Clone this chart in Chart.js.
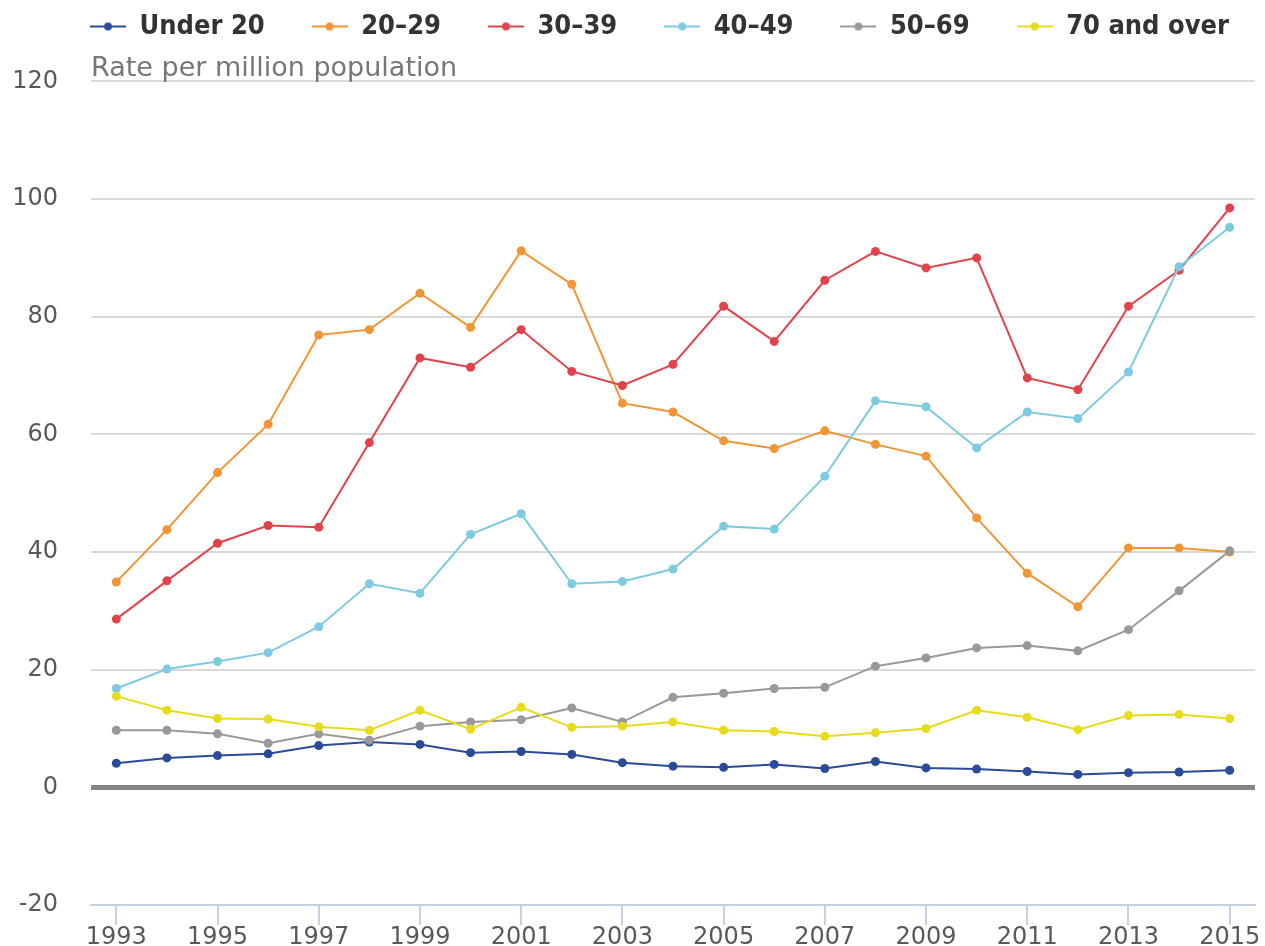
<!DOCTYPE html>
<html>
<head>
<meta charset="utf-8">
<script src="https://cdn.jsdelivr.net/npm/chart.js@4/dist/chart.umd.min.js"></script>
<style>
  body { margin: 0; background: #fff; }
  #wrap { width: 1265px; height: 946px; }
</style>
</head>
<body>
<div id="wrap"><canvas id="rateChart"></canvas></div>
<script>
// years on the x axis
const years = ['1993', '1994', '1995', '1996', '1997', '1998', '1999', '2000', '2001', '2002', '2003',
  '2004', '2005', '2006', '2007', '2008', '2009', '2010', '2011', '2012', '2013', '2014', '2015'];

// rate per million population, by age group
const under20 = [4.1, 5.0, 5.4, 5.7, 7.1, 7.7, 7.3, 5.9, 6.1, 5.6, 4.2, 3.6, 3.4, 3.9, 3.2, 4.4, 3.3, 3.1, 2.7, 2.2, 2.5, 2.6, 2.9];
const age20to29 = [34.9, 43.8, 53.5, 61.7, 76.9, 77.8, 84.0, 78.2, 91.2, 85.5, 65.3, 63.8, 58.9, 57.6, 60.6, 58.3, 56.3, 45.8, 36.4, 30.7, 40.7, 40.7, 40.0];
const age30to39 = [28.6, 35.1, 41.5, 44.5, 44.2, 58.6, 73.0, 71.4, 77.8, 70.7, 68.3, 71.9, 81.8, 75.8, 86.2, 91.1, 88.3, 90.0, 69.6, 67.6, 81.8, 87.9, 98.5];
const age40to49 = [16.8, 20.1, 21.4, 22.9, 27.3, 34.6, 33.0, 43.0, 46.5, 34.6, 35.0, 37.1, 44.4, 43.9, 52.9, 65.7, 64.7, 57.7, 63.8, 62.7, 70.6, 88.5, 95.2];
const age50to69 = [9.7, 9.7, 9.1, 7.5, 9.1, 8.0, 10.4, 11.1, 11.5, 13.5, 11.1, 15.3, 16.0, 16.8, 17.0, 20.6, 22.0, 23.7, 24.1, 23.2, 26.8, 33.4, 40.2];
const age70plus = [15.5, 13.1, 11.7, 11.6, 10.3, 9.7, 13.1, 9.9, 13.6, 10.2, 10.4, 11.1, 9.7, 9.5, 8.7, 9.3, 10.0, 13.1, 11.9, 9.8, 12.2, 12.4, 11.7];

const seriesNames = ['Under 20', '20\u201329', '30\u201339', '40\u201349', '50\u201369', '70 and over'];
const yTicks = [-20, 0, 20, 40, 60, 80, 100, 120];

const colors = ['#2a4a9a', '#f29534', '#e2434a', '#7ecbe1', '#999999', '#e6dc1c'];
const allSeries = [under20, age20to29, age30to39, age40to49, age50to69, age70plus];

// little line-with-dot marker for the legend
function legendMarker(color) {
  const c = document.createElement('canvas');
  c.width = 36; c.height = 12;
  const g = c.getContext('2d');
  g.strokeStyle = color;
  g.lineWidth = 2;
  g.beginPath(); g.moveTo(0, 6); g.lineTo(36, 6); g.stroke();
  g.fillStyle = color;
  g.beginPath(); g.arc(18, 6, 4, 0, Math.PI * 2); g.fill();
  return c;
}
const markers = colors.map(legendMarker);

// the original legend sits a bit right of the page centre
const legendNudge = {
  id: 'legendNudge',
  afterLayout(chart) {
    if (!chart.legend) return;
    chart.legend.left += 26;
    chart.legend.right += 26;
  }
};

const ctx = document.getElementById('rateChart').getContext('2d');

new Chart(ctx, {
  type: 'line',
  data: {
    labels: years,
    datasets: allSeries.map((vals, i) => ({
      label: seriesNames[i],
      data: vals,
      borderColor: colors[i],
      backgroundColor: colors[i],
      borderWidth: 2,
      pointRadius: 4.5,
      pointHoverRadius: 5,
      pointBorderWidth: 0,
      tension: 0,
      order: -i
    }))
  },
  options: {
    responsive: true,
    maintainAspectRatio: false,
    animation: false,
    layout: { padding: { left: 12, right: 10, top: -34, bottom: 0 } },
    plugins: {
      tooltip: { enabled: false },
      legend: {
        position: 'top',
        labels: {
          usePointStyle: true,
          pointStyleWidth: 36,
          padding: 47,
          color: '#333333',
          font: { family: '"DejaVu Sans Condensed", "DejaVu Sans"', weight: 'bold', size: 27 },
          generateLabels(chart) {
            return chart.data.datasets.map((ds, i) => ({
              text: ds.label,
              fillStyle: ds.borderColor,
              strokeStyle: ds.borderColor,
              pointStyle: markers[i],
              fontColor: '#333333',
              hidden: !chart.isDatasetVisible(i),
              datasetIndex: i
            }));
          }
        }
      },
      // y axis title, sits between legend and plot, left aligned with the plot
      title: {
        display: true,
        text: 'Rate per million population',
        position: 'top',
        align: 'start',
        fullSize: false,
        weight: 500,
        color: '#777777',
        font: { family: '"DejaVu Sans"', size: 27, weight: 'normal' },
        padding: { top: 3, bottom: -4 }
      }
    },
    scales: {
      x: {
        type: 'category',
        offset: true,
        afterFit: (axis) => { axis.height = 41; },
        border: { display: true, color: '#c5d2e2', width: 2 },
        grid: {
          drawOnChartArea: false,
          drawTicks: true,
          tickLength: 20,
          lineWidth: 2,
          color: (c) => (c.index % 2 === 0 ? '#c5d2e2' : 'rgba(0,0,0,0)')
        },
        ticks: {
          autoSkip: false,
          maxRotation: 0,
          padding: -2,
          color: '#595959',
          font: { family: '"DejaVu Sans"', size: 24 },
          callback: (v, i) => (i % 2 === 0 ? years[i] : '')
        }
      },
      y: {
        min: yTicks[0],
        max: yTicks[yTicks.length - 1],
        afterBuildTicks: (axis) => { axis.ticks = yTicks.map(v => ({ value: v })); },
        afterFit: (axis) => {
          axis.width = 79;
          axis.paddingTop = 0;
          axis.paddingBottom = 0;
        },
        border: { display: false },
        grid: {
          drawTicks: false,
          color: (c) => {
            if (c.tick.value === 0) return '#858585';
            if (c.tick.value === yTicks[0]) return 'rgba(0,0,0,0)';
            return '#d9d9d9';
          },
          lineWidth: (c) => (c.tick.value === 0 ? 5 : 2)
        },
        ticks: {
          padding: 33,
          color: '#595959',
          font: { family: '"DejaVu Sans"', size: 24 }
        }
      }
    }
  },
  plugins: [legendNudge]
});
</script>
</body>
</html>
